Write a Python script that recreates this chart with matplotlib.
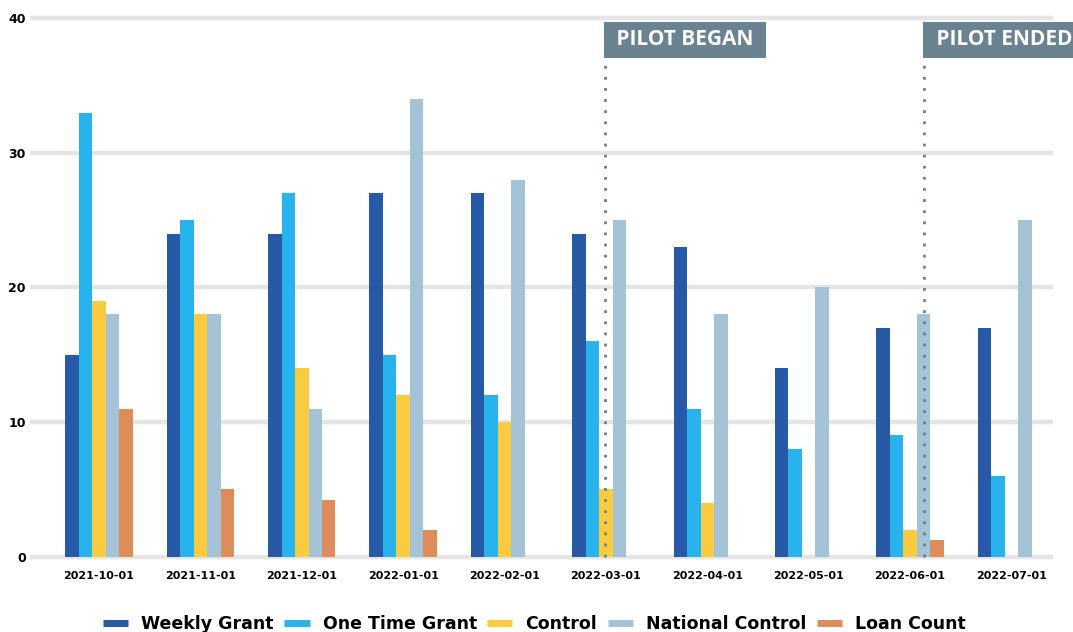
import numpy as np
import matplotlib
matplotlib.use("Agg")
import matplotlib.pyplot as plt
from matplotlib.lines import Line2D

months = ['2021-10-01', '2021-11-01', '2021-12-01', '2022-01-01', '2022-02-01',
          '2022-03-01', '2022-04-01', '2022-05-01', '2022-06-01', '2022-07-01']
weekly_grant = [15, 24, 24, 27, 27, 24, 23, 14, 17, 17]
one_time_grant = [33, 25, 27, 15, 12, 16, 11, 8, 9, 6]
control = [19, 18, 14, 12, 10, 5, 4, 0, 2, 0]
national_control = [18, 18, 11, 34, 28, 25, 18, 20, 18, 25]
loan_count = [11, 5, 4.2, 2, 0, 0, 0, 0, 1.2, 0]

series_names = ['Weekly Grant', 'One Time Grant', 'Control', 'National Control', 'Loan Count']
series_vals = [weekly_grant, one_time_grant, control, national_control, loan_count]
colors = ['#2859a6', '#29b3ec', '#f9cb40', '#a5c3d6', '#df8c5b']

pilot_labels = ['PILOT BEGAN', 'PILOT ENDED']
pilot_x = [4.99, 8.14]

fig = plt.figure(figsize=(10.73, 6.32), dpi=100)
ax = fig.add_axes([0.028, 0.1141, 0.9534, 0.862])

x = np.arange(len(months))
w = 0.133
for i, (name, vals) in enumerate(zip(series_names, series_vals)):
    ax.bar(x + (i - 2) * w, vals, width=w, color=colors[i], label=name, zorder=2)

ax.set_xlim(-0.68, 9.41)
ax.set_ylim(-0.25, 40.25)
ax.set_yticks([0, 10, 20, 30, 40])
ax.set_xticks(x)
ax.set_xticklabels(months, fontsize=8, fontweight='bold')
ax.tick_params(axis='both', length=0)
ax.tick_params(axis='y', pad=3)
ax.tick_params(axis='x', pad=8)
for lab in ax.get_yticklabels():
    lab.set_fontweight('bold')
    lab.set_fontsize(9)
ax.yaxis.grid(True, color='#e5e5e5', linewidth=3.2)
ax.set_axisbelow(True)
for s in ax.spines.values():
    s.set_visible(False)

# pilot markers
ax.vlines(pilot_x, 0, 37.1, colors='#6b7f8e', linestyles=(0, (1, 3)), linewidth=2, zorder=3)
fs = 15
for px, lab in zip(pilot_x, pilot_labels):
    ax.annotate(' ' + lab + ' ', xy=(px, 38.4), xytext=(0.3 * fs, 0), textcoords='offset points',
                ha='left', va='center', color='white', fontsize=fs,
                fontweight='bold', family='Open Sans', annotation_clip=False, zorder=4,
                bbox=dict(boxstyle='square,pad=0.35', fc='#6b8290', ec='none'))

handles = [Line2D([0], [0], color=c, lw=5, solid_capstyle='butt') for c in colors]
fig.legend(handles, series_names, loc='center', bbox_to_anchor=(0.498, 0.012), ncol=5,
           frameon=False, prop=dict(weight='bold', size=12.5), handlelength=1.45,
           handletextpad=0.75, columnspacing=0.6)

fig.savefig('out.png', dpi=100)
